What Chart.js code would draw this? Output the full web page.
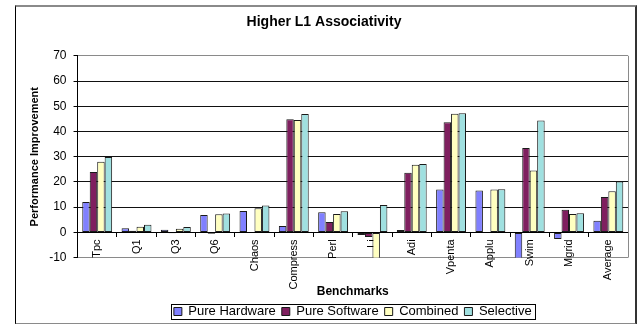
<!DOCTYPE html>
<html>
<head>
<meta charset="utf-8">
<script src="https://cdn.jsdelivr.net/npm/chart.js@4/dist/chart.umd.min.js"></script>
<style>
    html, body { margin: 0; padding: 0; background: #fff; }
    .chartWrap { position: relative; width: 641px; height: 324px; }
    .chartFrame {
        position: absolute; left: 15px; top: 5px; width: 619px; height: 316px;
        border-left: 1px solid #000; border-top: 2px solid #8a8a8a;
        border-right: 2px solid #333; border-bottom: 2px solid #8a8a8a;
        pointer-events: none;
    }
</style>
</head>
<body>
<div class="chartWrap">
    <canvas id="assocChart" width="641" height="324"></canvas>
    <div class="chartFrame"></div>
</div>
<script>
const categories = ['Tpc', 'Q1', 'Q3', 'Q6', 'Chaos', 'Compress', 'Perl', 'Li', 'Adi', 'Vpenta', 'Applu', 'Swim', 'Mgrid', 'Average'];
const pureHardware = [12.0, 1.6, 1.0, 6.9, 8.5, 2.5, 8.0, -1.0, 0.9, 17.0, 16.6, -11.0, -2.6, 4.6];
const pureSoftware = [23.9, 0.6, -0.3, -0.5, -0.2, 44.8, 4.1, -1.8, 23.6, 43.7, -0.1, 33.4, 9.0, 14.0];
const combined = [28.0, 2.2, 1.4, 7.2, 9.6, 44.5, 7.3, -12.0, 26.8, 47.0, 17.0, 24.5, 7.3, 16.3];
const selective = [29.9, 3.0, 2.1, 7.5, 10.7, 46.9, 8.4, 10.9, 27.1, 47.2, 17.1, 44.4, 7.6, 20.2];
const yMin = -10;
const yMax = 70;
const yStep = 10;

Chart.defaults.font.family = '"Liberation Sans", Arial, sans-serif';
Chart.defaults.color = '#000';

// gray right edge of the plot area
const plotEdge = {
    id: 'plotEdge',
    beforeDatasetsDraw(chart) {
        const { ctx, chartArea } = chart;
        ctx.save();
        ctx.strokeStyle = '#8a8a8a';
        ctx.lineWidth = 1;
        ctx.beginPath();
        ctx.moveTo(Math.round(chartArea.right) + 0.5, chartArea.top);
        ctx.lineTo(Math.round(chartArea.right) + 0.5, chartArea.bottom);
        ctx.stroke();
        ctx.restore();
    }
};

// thin box around the legend entries
const legendBox = {
    id: 'legendBox',
    afterDraw(chart) {
        const boxes = chart.legend && chart.legend.legendHitBoxes;
        if (!boxes || !boxes.length) return;
        const left = Math.min(...boxes.map(b => b.left)) - 3;
        const right = Math.max(...boxes.map(b => b.left + b.width)) + 3;
        const top = Math.min(...boxes.map(b => b.top)) - 1;
        const bottom = Math.max(...boxes.map(b => b.top + b.height)) + 1;
        const ctx = chart.ctx;
        ctx.save();
        ctx.strokeStyle = '#000';
        ctx.lineWidth = 1;
        ctx.strokeRect(Math.round(left) + 0.5, Math.round(top) + 0.5, Math.round(right - left), Math.round(bottom - top));
        ctx.restore();
    }
};

const makeSet = (label, values, color) => ({
    label: label,
    data: values,
    backgroundColor: color,
    borderColor: '#1a1a1a',
    borderWidth: 1,
    borderSkipped: false,
    barPercentage: 1.0,
    categoryPercentage: 0.76
});

new Chart(document.getElementById('assocChart'), {
    type: 'bar',
    data: {
        labels: categories,
        datasets: [
            makeSet('Pure Hardware', pureHardware, '#8080ff'),
            makeSet('Pure Software', pureSoftware, '#7f1f5f'),
            makeSet('Combined', combined, '#ffffc0'),
            makeSet('Selective', selective, '#a0e0e0')
        ]
    },
    options: {
        responsive: false,
        animation: false,
        layout: { padding: { left: 20, right: 13, top: 14, bottom: 0 } },
        plugins: {
            title: {
                display: true,
                text: 'Higher L1 Associativity',
                font: { size: 14, weight: 'bold' },
                padding: { top: 0, bottom: 25 }
            },
            subtitle: {
                display: true,
                text: 'Benchmarks',
                position: 'bottom',
                fullSize: false,
                font: { size: 12, weight: 'bold' },
                padding: { top: 27, bottom: 0 }
            },
            legend: {
                position: 'bottom',
                fullSize: false,
                weight: 1600,
                maxHeight: 25,
                labels: {
                    boxWidth: 8,
                    boxHeight: 8,
                    padding: 6,
                    font: { size: 13 }
                }
            },
            tooltip: { enabled: false }
        },
        scales: {
            x: {
                position: { y: 0 },
                grid: {
                    display: true,
                    offset: true,
                    drawOnChartArea: false,
                    tickLength: 4,
                    tickColor: '#000'
                },
                border: { color: '#000', width: 1 },
                ticks: {
                    minRotation: 90,
                    maxRotation: 90,
                    padding: 3,
                    font: { size: 11 }
                }
            },
            y: {
                min: yMin,
                max: yMax,
                ticks: { stepSize: yStep, padding: 7, font: { size: 12 } },
                grid: {
                    color: c => (c.tick && (c.tick.value === yMax || c.tick.value === yMin)) ? '#8a8a8a' : '#111',
                    tickLength: 4,
                    tickColor: '#000'
                },
                border: { color: '#000', width: 1 },
                title: {
                    display: true,
                    text: 'Performance Improvement',
                    font: { size: 11, weight: 'bold' },
                    padding: { top: 8, bottom: 1 }
                }
            }
        }
    },
    plugins: [plotEdge, legendBox]
});
</script>
</body>
</html>
